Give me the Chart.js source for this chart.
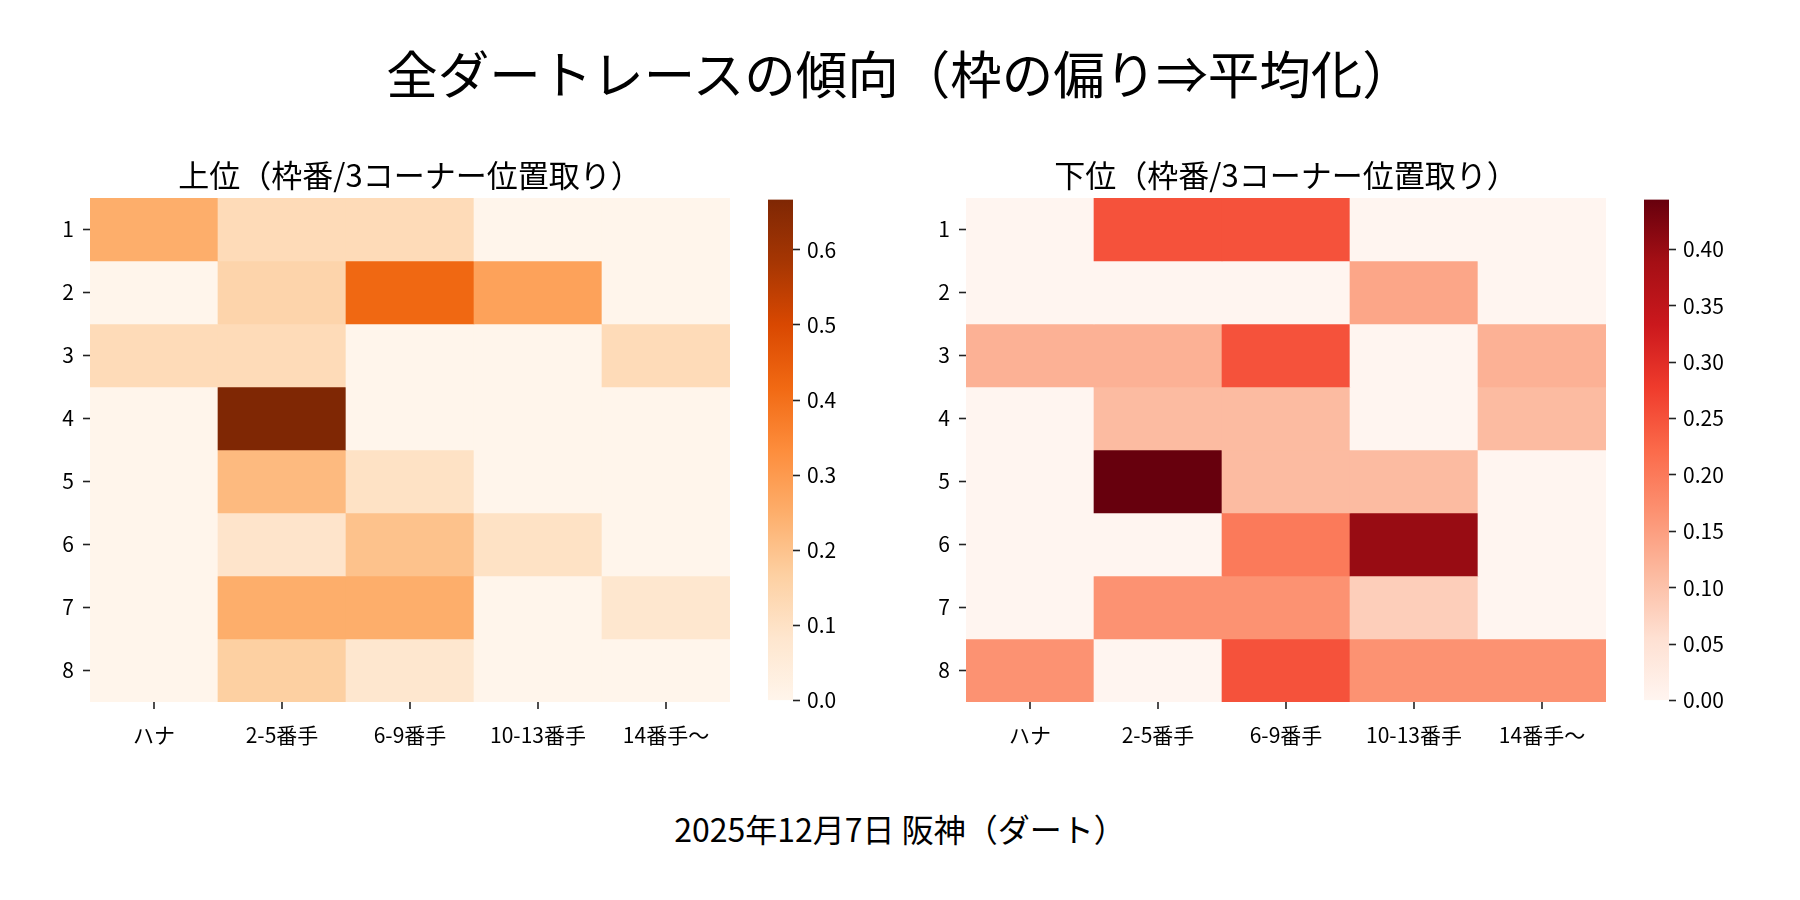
<!DOCTYPE html>
<html lang="ja">
<head>
<meta charset="utf-8">
<title>全ダートレースの傾向</title>
<script src="https://cdn.jsdelivr.net/npm/chart.js@4.4.1/dist/chart.umd.min.js"></script>
<style>
  html, body { margin: 0; padding: 0; background: #fff; }
  body {
    width: 1800px; height: 900px; position: relative; overflow: hidden;
    font-family: "Noto Sans CJK JP", "Noto Sans", sans-serif; color: #000;
  }
  .abs { position: absolute; }
  #main-title { left: 0; width: 1800px; top: 41px; text-align: center; font-size: 51.5px; line-height: 62px; }
  #footer { left: 0; width: 1800px; top: 807px; text-align: center; font-size: 32px; line-height: 42px; }
</style>
</head>
<body>
<div id="main-title" class="abs">全ダートレースの傾向（枠の偏り⇒平均化）</div>
<canvas id="upper-heat" class="abs" width="710" height="602" style="left:30px;top:150px"></canvas>
<canvas id="upper-bar" class="abs" width="95" height="540" style="left:768px;top:180px"></canvas>
<canvas id="lower-heat" class="abs" width="710" height="602" style="left:906px;top:150px"></canvas>
<canvas id="lower-bar" class="abs" width="95" height="540" style="left:1644px;top:180px"></canvas>
<div id="footer" class="abs">2025年12月7日 阪神（ダート）</div>

<script>
// rows = 枠番, columns = 3コーナー位置取り
const rowLabels = ['1', '2', '3', '4', '5', '6', '7', '8'];
const colLabels = ['ハナ', '2-5番手', '6-9番手', '10-13番手', '14番手〜'];

// 上位 share per cell
const upperRates = [
    [0.25, 0.125, 0.125, 0, 0],
    [0, 0.15, 0.42, 0.28, 0],
    [0.125, 0.125, 0, 0, 0.125],
    [0, 0.667, 0, 0, 0],
    [0, 0.22, 0.1, 0, 0],
    [0, 0.09, 0.2, 0.1, 0],
    [0, 0.25, 0.25, 0, 0.08],
    [0, 0.167, 0.08, 0, 0]
];

// 下位 share per cell
const lowerRates = [
    [0, 0.25, 0.25, 0, 0],
    [0, 0, 0, 0.14, 0],
    [0.125, 0.125, 0.25, 0, 0.125],
    [0, 0.111, 0.111, 0, 0.111],
    [0, 0.444, 0.111, 0.111, 0],
    [0, 0, 0.2, 0.4, 0],
    [0, 0.167, 0.167, 0.083, 0],
    [0.167, 0, 0.25, 0.167, 0.167]
];

const upperTicks = [0, 0.1, 0.2, 0.3, 0.4, 0.5, 0.6];
const lowerTicks = [0, 0.05, 0.1, 0.15, 0.2, 0.25, 0.3, 0.35, 0.4];

// matplotlib Oranges / Reds anchor colours
const orangesStops = ['#fff5eb', '#fee6ce', '#fdd0a2', '#fdae6b', '#fd8d3c', '#f16913', '#d94801', '#a63603', '#7f2704'];
const redsStops = ['#fff5f0', '#fee0d2', '#fcbba1', '#fc9272', '#fb6a4a', '#ef3b2c', '#cb181d', '#a50f15', '#67000d'];

Chart.defaults.font.family = '"Noto Sans CJK JP", "Noto Sans", sans-serif';
Chart.defaults.color = '#000';

function hexToRgb(hex) {
    const n = parseInt(hex.slice(1), 16);
    return [(n >> 16) & 255, (n >> 8) & 255, n & 255];
}

// linear interpolation along the colormap anchors
function cmapColor(stops, t) {
    t = Math.max(0, Math.min(1, t));
    const pos = t * (stops.length - 1);
    const i = Math.min(Math.floor(pos), stops.length - 2);
    const f = pos - i;
    const a = hexToRgb(stops[i]);
    const b = hexToRgb(stops[i + 1]);
    const c = a.map((v, k) => Math.round(v + (b[k] - v) * f));
    return `rgb(${c[0]}, ${c[1]}, ${c[2]})`;
}

const tickGrid = {
    display: true,
    drawOnChartArea: false,
    drawTicks: true,
    tickLength: 7,
    tickColor: '#222',
    tickWidth: 1.6
};

// category x ticks sit at the cell centres (like seaborn), draw them from the scale
const centreTicks = {
    id: 'centreTicks',
    afterDraw(chart) {
        const s = chart.scales.x;
        if (!s) return;
        const ctx = chart.ctx;
        ctx.save();
        ctx.strokeStyle = '#222';
        ctx.lineWidth = 1.6;
        ctx.beginPath();
        s.ticks.forEach((t, i) => {
            const px = Math.round(s.getPixelForTick(i));
            ctx.moveTo(px, s.top);
            ctx.lineTo(px, s.top + 7);
        });
        ctx.stroke();
        ctx.restore();
    }
};

function makeHeatmap(canvasId, title, rates, stops) {
    const vmax = Math.max(...rates.flat());
    const datasets = rowLabels.map((label, i) => {
        const rowNo = i + 1;
        return {
            label: '枠' + label,
            data: colLabels.map(() => [rowNo - 0.5, rowNo + 0.5]),
            backgroundColor: rates[i].map(v => cmapColor(stops, v / vmax)),
            borderWidth: 0,
            grouped: false,
            barPercentage: 1,
            categoryPercentage: 1
        };
    });

    new Chart(document.getElementById(canvasId), {
        type: 'bar',
        data: { labels: colLabels, datasets: datasets },
        plugins: [centreTicks],
        options: {
            responsive: false,
            animation: false,
            layout: { padding: { left: 0, right: 10, top: 0, bottom: 0 } },
            plugins: {
                legend: { display: false },
                tooltip: { enabled: false },
                title: {
                    display: true,
                    fullSize: false,
                    text: title,
                    color: '#000',
                    font: { size: 31, weight: 'normal' },
                    lineHeight: 1.2,
                    padding: { top: 6.5, bottom: 4.3 }
                }
            },
            scales: {
                x: {
                    type: 'category',
                    grid: { display: false },
                    border: { display: false },
                    ticks: { font: { size: 21 }, padding: 12, maxRotation: 0 },
                    afterFit: scale => { scale.height = 50; }
                },
                y: {
                    type: 'linear',
                    min: 0.5,
                    max: 8.5,
                    reverse: true,
                    grid: tickGrid,
                    border: { display: false },
                    ticks: {
                        font: { size: 21 },
                        padding: 9,
                        callback: value => rowLabels[value - 1]
                    },
                    afterBuildTicks: axis => {
                        axis.ticks = rowLabels.map((_, i) => ({ value: i + 1 }));
                    },
                    afterFit: scale => { scale.width = 60; }
                }
            }
        }
    });
    return vmax;
}

function makeColorbar(canvasId, vmax, ticks, stops, digits) {
    new Chart(document.getElementById(canvasId), {
        type: 'bar',
        data: {
            labels: [''],
            datasets: [{
                data: [vmax],
                borderWidth: 0,
                barPercentage: 1,
                categoryPercentage: 1,
                backgroundColor: context => {
                    const chart = context.chart;
                    const yScale = chart.scales.y;
                    if (!chart.chartArea || !yScale) return stops[0];
                    const g = chart.ctx.createLinearGradient(0, yScale.getPixelForValue(0), 0, yScale.getPixelForValue(vmax));
                    stops.forEach((c, i) => g.addColorStop(i / (stops.length - 1), c));
                    return g;
                }
            }]
        },
        options: {
            responsive: false,
            animation: false,
            layout: { padding: { left: 0, right: 0, top: 18, bottom: 18 } },
            plugins: { legend: { display: false }, tooltip: { enabled: false } },
            scales: {
                x: { display: false },
                y: {
                    position: 'right',
                    min: 0,
                    max: vmax,
                    grid: tickGrid,
                    border: { display: false },
                    ticks: {
                        font: { size: 21 },
                        padding: 7,
                        callback: value => Number(value).toFixed(digits)
                    },
                    afterBuildTicks: axis => {
                        axis.ticks = ticks.map(v => ({ value: v }));
                    },
                    afterFit: scale => { scale.width = 70; }
                }
            }
        }
    });
}

const upperMax = makeHeatmap('upper-heat', '上位（枠番/3コーナー位置取り）', upperRates, orangesStops);
makeColorbar('upper-bar', upperMax, upperTicks, orangesStops, 1);

const lowerMax = makeHeatmap('lower-heat', '下位（枠番/3コーナー位置取り）', lowerRates, redsStops);
makeColorbar('lower-bar', lowerMax, lowerTicks, redsStops, 2);
</script>
</body>
</html>
